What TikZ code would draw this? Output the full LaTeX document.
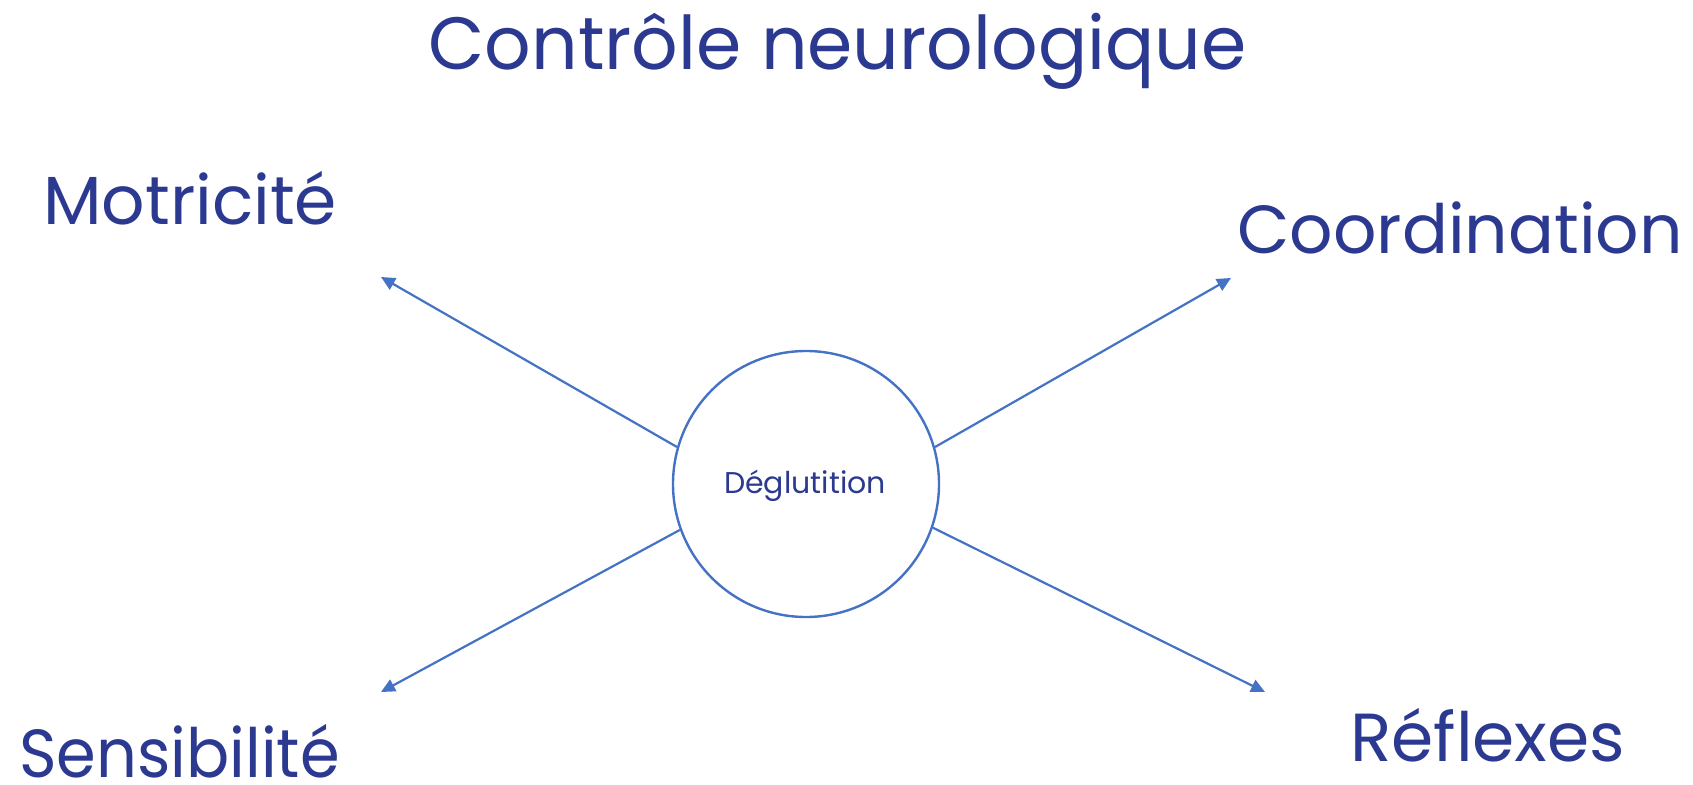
\documentclass[tikz,border=0pt]{standalone}
\usepackage{fontspec}
\setmainfont{Poppins}
\usetikzlibrary{arrows.meta}
\definecolor{txtc}{HTML}{2B3990}
\definecolor{lnc}{HTML}{4472C4}
\begin{document}
\begin{tikzpicture}[x=1pt,y=-1pt,
  lbl/.style={inner sep=0pt, text=txtc, font=\fontsize{68}{68}\selectfont},
  conn/.style={draw=lnc, line width=2.2pt, -{Triangle[length=14pt,width=13pt]}}]
\useasboundingbox (0,0) rectangle (1693,784);
\node[circle, draw=lnc, line width=2.4pt, minimum size=266pt, inner sep=0pt] (c) at (806,484) {};
\node[anchor=base, inner sep=0pt, text=txtc, font=\fontsize{30}{30}\selectfont] (d) at (805,493) {Déglutition};
\node[anchor=base, inner sep=0pt, text=txtc, font=\fontsize{74}{74}\selectfont] (t) at (837.5,70) {\scalebox{0.985}[1]{Contrôle neurologique}};
\node[lbl, anchor=base west] (m) at (43,224.6) {Motricité};
\node[lbl, anchor=base west] (co) at (1237,253.7) {Coordination};
\node[lbl, anchor=base west] (s) at (19,777) {\scalebox{0.94}[1]{Sensibilité}};
\node[lbl, anchor=base west] (r) at (1350,761) {Réflexes};
\coordinate (em) at (381,277);
\coordinate (eco) at (1231,278);
\coordinate (es) at (381,692);
\coordinate (er) at (1265,692);
\draw[conn] (c.164) -- (em);
\draw[conn] (c.16) -- (eco);
\draw[conn] (c.200) -- (es);
\draw[conn] (c.-19) -- (er);
\end{tikzpicture}
\end{document}
